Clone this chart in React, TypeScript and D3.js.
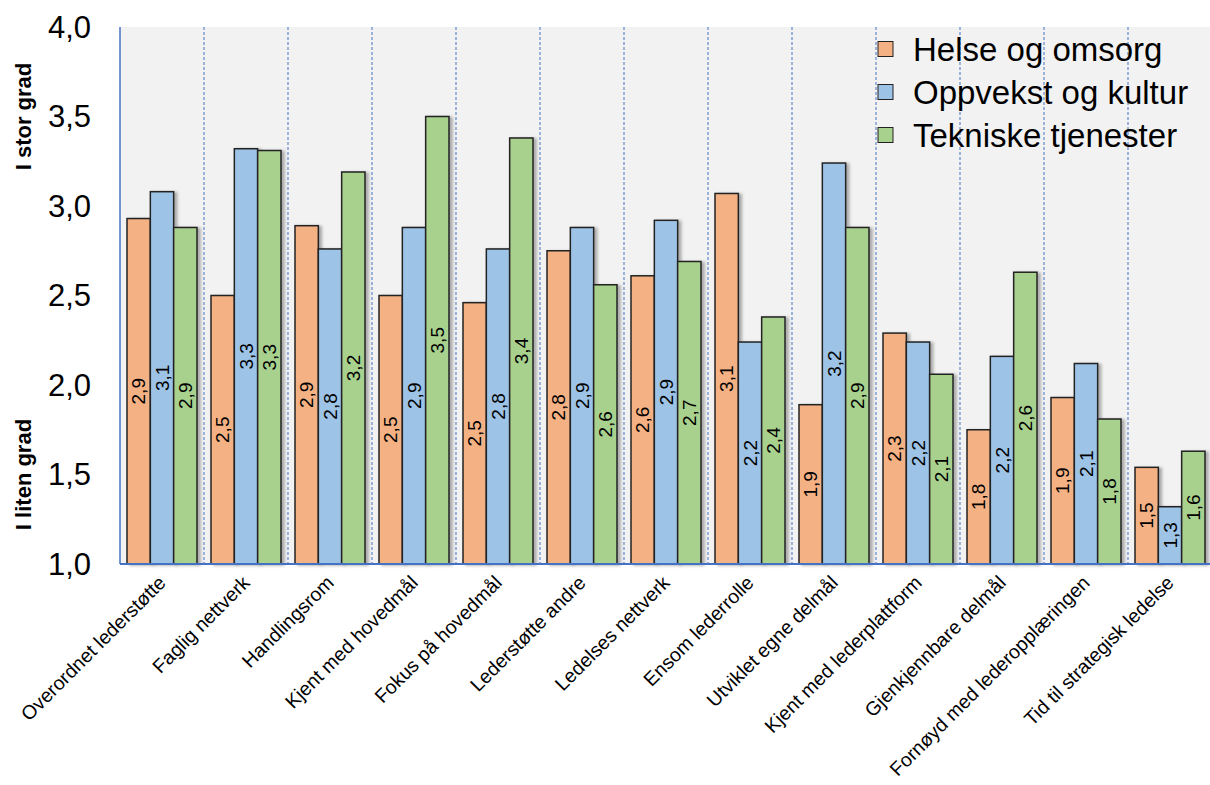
import React, { useEffect, useRef } from 'react';
import * as d3 from 'd3';

const categories = [
  'Overordnet lederstøtte',
  'Faglig nettverk',
  'Handlingsrom',
  'Kjent med hovedmål',
  'Fokus på hovedmål',
  'Lederstøtte andre',
  'Ledelses nettverk',
  'Ensom lederrolle',
  'Utviklet egne delmål',
  'Kjent med lederplattform',
  'Gjenkjennbare delmål',
  'Fornøyd med lederopplæringen',
  'Tid til strategisk ledelse'
];
const seriesNames = ['Helse og omsorg', 'Oppvekst og kultur', 'Tekniske tjenester'];
const helse = [2.93, 2.5, 2.89, 2.5, 2.46, 2.75, 2.61, 3.07, 1.89, 2.29, 1.75, 1.93, 1.54];
const oppvekst = [3.08, 3.32, 2.76, 2.88, 2.76, 2.88, 2.92, 2.24, 3.24, 2.24, 2.16, 2.12, 1.32];
const tekniske = [2.88, 3.31, 3.19, 3.5, 3.38, 2.56, 2.69, 2.38, 2.88, 2.06, 2.63, 1.81, 1.63];
const yTicks = [1.0, 1.5, 2.0, 2.5, 3.0, 3.5, 4.0];
const colors = ['#F4B183', '#9DC3E6', '#A9D18E'];

const App = () => {
  const svgRef = useRef<SVGSVGElement | null>(null);
  const width = 1210;
  const height = 785;
  const margin = { top: 27, right: -2, bottom: 221, left: 120 };

  useEffect(() => {
    const svg = d3.select(svgRef.current);
    svg.selectAll('*').remove();
    const font = '"Liberation Sans", Arial, sans-serif';

    const x = d3
      .scaleBand<string>()
      .domain(categories)
      .range([margin.left, width - margin.right])
      .paddingInner(1 / 6)
      .paddingOuter(1 / 12);
    const xs = d3.scaleBand<number>().domain([0, 1, 2]).range([0, x.bandwidth()]);
    const y = d3.scaleLinear().domain([1, 4]).range([height - margin.bottom, margin.top]);
    const step = x.step();

    const defs = svg.append('defs');
    const f = defs.append('filter').attr('id', 'shadow').attr('x', '-20%').attr('width', '160%');
    f.append('feDropShadow')
      .attr('dx', 3)
      .attr('dy', 1)
      .attr('stdDeviation', 1.5)
      .attr('flood-color', '#000')
      .attr('flood-opacity', 0.3);

    // plot background
    svg
      .append('rect')
      .attr('x', margin.left)
      .attr('y', margin.top)
      .attr('width', width - margin.right - margin.left)
      .attr('height', y(1) - y(4))
      .attr('fill', '#F2F2F2');

    // dashed category separators
    svg
      .append('g')
      .selectAll('line')
      .data(categories.slice(1))
      .enter()
      .append('line')
      .attr('x1', (d) => (x(d) as number) - (step - x.bandwidth()) / 2)
      .attr('x2', (d) => (x(d) as number) - (step - x.bandwidth()) / 2)
      .attr('y1', y(4))
      .attr('y2', y(1))
      .attr('stroke', '#4472C4')
      .attr('stroke-width', 1)
      .attr('stroke-dasharray', '3,2');

    const data = [helse, oppvekst, tekniske];

    // bars
    const groups = svg
      .append('g')
      .selectAll('g')
      .data(categories)
      .enter()
      .append('g')
      .attr('transform', (d) => `translate(${x(d)},0)`);

    groups.each(function (_c, ci) {
      const g = d3.select(this);
      data.forEach((vals, si) => {
        g.append('rect')
          .attr('x', xs(si) as number)
          .attr('y', y(vals[ci]))
          .attr('width', xs.bandwidth())
          .attr('height', y(1) - y(vals[ci]))
          .attr('fill', colors[si])
          .attr('stroke', '#222')
          .attr('stroke-width', 1.5)
          .attr('filter', 'url(#shadow)');
      });
      data.forEach((vals, si) => {
        const cx = (xs(si) as number) + xs.bandwidth() / 2;
        const cy = (y(vals[ci]) + y(1)) / 2;
        g.append('text')
          .attr('transform', `translate(${cx},${cy}) rotate(-90)`)
          .attr('text-anchor', 'middle')
          .attr('dy', '0.35em')
          .style('font-family', font)
          .style('font-size', '19px')
          .style('fill', '#000')
          .text(d3.format('.1f')(vals[ci]).replace('.', ','));
      });
    });

    // axes lines
    svg
      .append('line')
      .attr('x1', margin.left)
      .attr('x2', margin.left)
      .attr('y1', y(4))
      .attr('y2', y(1))
      .attr('stroke', '#4472C4')
      .attr('stroke-width', 1.5);
    svg
      .append('line')
      .attr('x1', margin.left)
      .attr('x2', width)
      .attr('y1', y(1))
      .attr('y2', y(1))
      .attr('stroke', '#4472C4')
      .attr('stroke-width', 2);

    // y tick labels
    svg
      .append('g')
      .selectAll('text')
      .data(yTicks)
      .enter()
      .append('text')
      .attr('x', 91)
      .attr('y', (d) => y(d))
      .attr('dy', '0.35em')
      .attr('text-anchor', 'end')
      .style('font-family', font)
      .style('font-size', '31px')
      .style('fill', '#000')
      .text((d) => d3.format('.1f')(d).replace('.', ','));

    // y axis titles
    [
      { t: 'I stor grad', v: 3.5 },
      { t: 'I liten grad', v: 1.5 }
    ].forEach(({ t, v }) => {
      svg
        .append('text')
        .attr('transform', `translate(23,${y(v)}) rotate(-90)`)
        .attr('text-anchor', 'middle')
        .attr('dy', '0.35em')
        .style('font-family', font)
        .style('font-size', '22px')
        .style('font-weight', 'bold')
        .style('fill', '#000')
        .text(t);
    });

    // x labels
    svg
      .append('g')
      .selectAll('text')
      .data(categories)
      .enter()
      .append('text')
      .attr('transform', (d) => `translate(${(x(d) as number) + x.bandwidth() / 2 + 5},${y(1) + 20}) rotate(-45)`)
      .attr('text-anchor', 'end')
      .style('font-family', font)
      .style('font-size', '19.5px')
      .style('fill', '#000')
      .text((d) => d);

    // legend
    const legend = svg
      .append('g')
      .selectAll('g')
      .data(seriesNames)
      .enter()
      .append('g')
      .attr('transform', (_d, i) => `translate(878,${49 + i * 43})`);
    legend
      .append('rect')
      .attr('x', 0)
      .attr('y', -7.5)
      .attr('width', 15)
      .attr('height', 15)
      .attr('fill', (_d, i) => colors[i])
      .attr('stroke', '#222')
      .attr('stroke-width', 1);
    legend
      .append('text')
      .attr('x', 35)
      .attr('dy', '0.35em')
      .style('font-family', font)
      .style('font-size', '33px')
      .style('fill', '#000')
      .text((d) => d);
  }, []);

  return (
    <div style={{ position: 'absolute', left: 0, top: 0 }}>
      <svg ref={svgRef} width={width} height={height} style={{ display: 'block' }}></svg>
    </div>
  );
};

export default App;
